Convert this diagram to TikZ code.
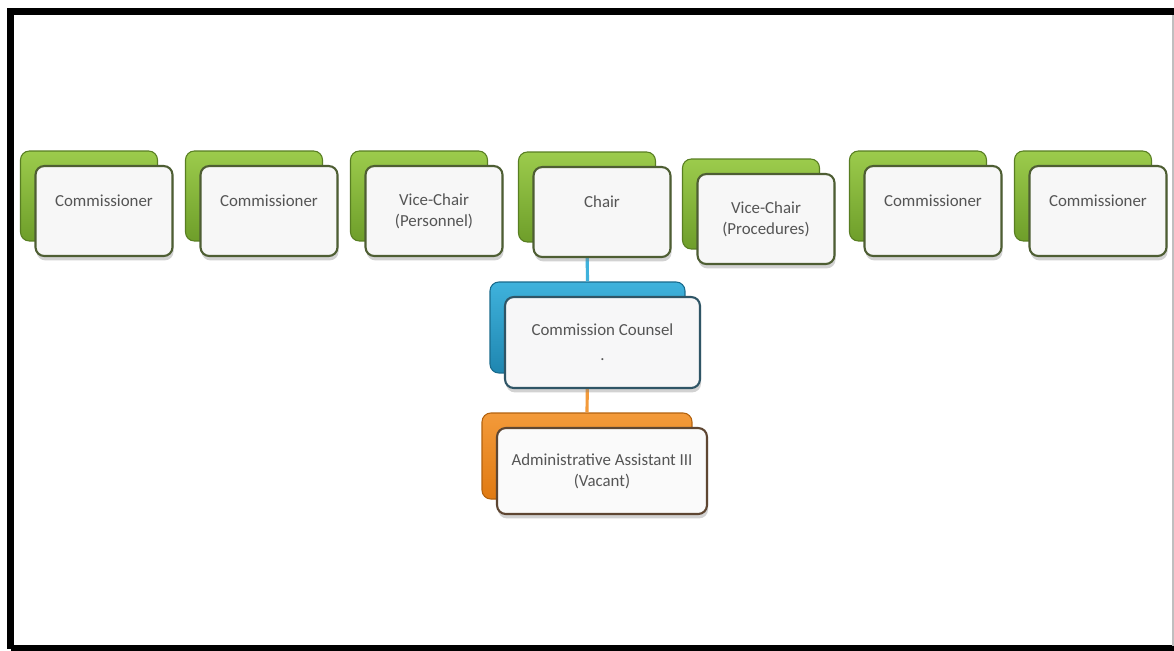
\documentclass[tikz,border=0pt]{standalone}
\usepackage{fontspec}
\setmainfont{Carlito}
\usetikzlibrary{shadows}

\definecolor{greenlite}{HTML}{9CCB4C}
\definecolor{greendark}{HTML}{6E9E2A}
\definecolor{greenline}{HTML}{4E5E33}
\definecolor{bluelite}{HTML}{3FB2DC}
\definecolor{bluedark}{HTML}{1F86B0}
\definecolor{blueline}{HTML}{2F5566}
\definecolor{orangelite}{HTML}{F39A3A}
\definecolor{orangedark}{HTML}{E07A12}
\definecolor{orangeline}{HTML}{5E4632}
\definecolor{txtgray}{HTML}{555555}

\tikzset{
  back/.style={rounded corners=5pt, minimum width=2.74cm, minimum height=1.8cm},
  greenback/.style={back, top color=greenlite, bottom color=greendark, draw=greendark!80!black, line width=0.6pt},
  blueback/.style={back, top color=bluelite, bottom color=bluedark, draw=bluedark!80!black, line width=0.6pt},
  orangeback/.style={back, top color=orangelite, bottom color=orangedark, draw=orangedark!80!black, line width=0.6pt},
  front/.style={rounded corners=5pt, minimum width=2.74cm, minimum height=1.8cm, line width=1.2pt,
    align=center, text=txtgray, font=\fontsize{9.6}{12}\selectfont,
    drop shadow={shadow xshift=0.6pt, shadow yshift=-2.5pt, opacity=0.35}},
  greenfront/.style={front, draw=greenline, fill=black!3},
  bluefront/.style={front, draw=blueline, fill=blue!2!black!3},
  orangefront/.style={front, draw=orangeline, fill=orange!4!black!2},
  link/.style={line width=1.8pt}
}

\begin{document}
\begin{tikzpicture}[x=0.02cm, y=-0.02cm]
\fill[white] (0,0) rectangle (1174,650);
\clip (0,0) rectangle (1174,650);
% frame
\draw[line width=0.15cm] (10.5,649) -- (10.5,11.25) -- (1190,11.25);
\draw[line width=0.15cm] (10.5,649) -- (1190,649);
\draw[black!25, line width=0.6pt] (1173,15) -- (1173,646);

%% back boxes, top row
\node[greenback] (com1b) at (89,196) {};
\node[greenback] (com2b) at (254,196) {};
\node[greenback] (vicepb) at (419,196) {};
\node[greenback] (chairb) at (587,197) {};
\node[greenback] (vicerb) at (751,204) {};
\node[greenback] (com3b) at (918,196) {};
\node[greenback] (com4b) at (1083,196) {};
%% back boxes, lower column
\node[blueback, minimum width=3.9cm, minimum height=1.82cm] (counselb) at (587.5,327.5) {};
\node[orangeback, minimum width=4.2cm, minimum height=1.72cm] (adminb) at (587,456) {};

% connectors
\draw[link, bluelite] (chairb.south) -- (counselb.north);
\draw[link, orangelite] (counselb.south) -- (adminb.north);

%% front boxes, top row
\node[greenfront] (com1) at ([shift={(15,15)}]com1b) {Commissioner\\\mbox{}};
\node[greenfront] (com2) at ([shift={(15,15)}]com2b) {Commissioner\\\mbox{}};
\node[greenfront] (vicep) at ([shift={(15,15)}]vicepb) {Vice-Chair\\(Personnel)};
\node[greenfront] (chair) at ([shift={(15,15)}]chairb) {Chair\\\mbox{}};
\node[greenfront] (vicer) at ([shift={(15,15)}]vicerb) {Vice-Chair\\(Procedures)};
\node[greenfront] (com3) at ([shift={(15,15)}]com3b) {Commissioner\\\mbox{}};
\node[greenfront] (com4) at ([shift={(15,15)}]com4b) {Commissioner\\\mbox{}};
%% front boxes, lower column
\node[bluefront, minimum width=3.9cm, minimum height=1.82cm] (counsel) at ([shift={(15,15)}]counselb) {Commission Counsel\\[2pt].};
\node[orangefront, minimum width=4.2cm, minimum height=1.72cm] (admin) at ([shift={(15,15)}]adminb) {Administrative Assistant III\\(Vacant)};
\end{tikzpicture}
\end{document}
